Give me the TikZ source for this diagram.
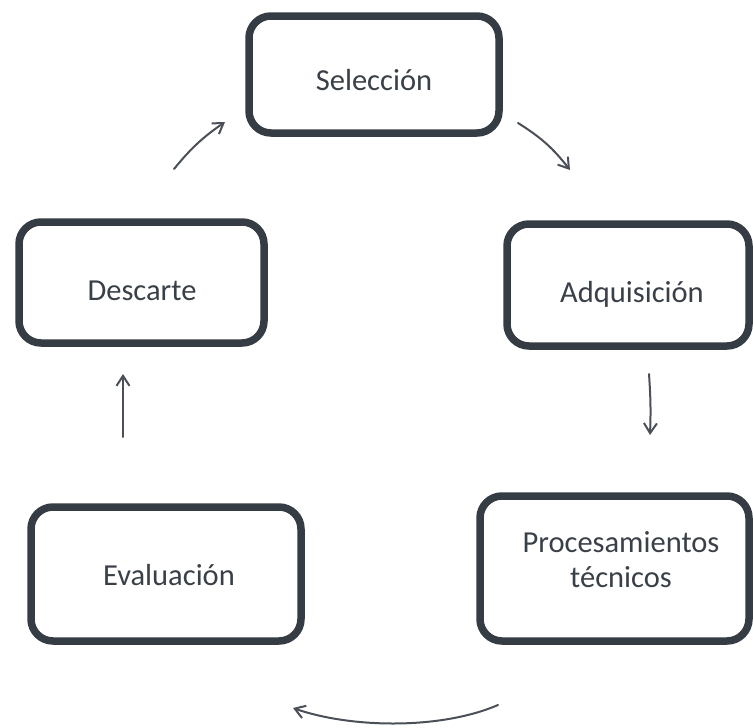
\documentclass[tikz,border=0pt]{standalone}
\usepackage{fontspec}
\setmainfont{Carlito}
\usetikzlibrary{arrows.meta}
\definecolor{boxc}{HTML}{353C44}
\definecolor{txtc}{HTML}{3A4048}
\definecolor{arrc}{HTML}{4A4F58}
\begin{document}
\begin{tikzpicture}[x=1pt,y=-1pt,
  stagebox/.style={draw=boxc,line width=7.5pt,rounded corners=22pt,fill=white,inner sep=0pt},
  stagetext/.style={anchor=base,align=center,inner sep=0pt,text=txtc,font=\fontsize{30.5}{35}\selectfont},
  flow/.style={draw=arrc,line width=2pt,line cap=round,-{Straight Barb[length=10pt,width=13pt,line width=2pt]}}]
\useasboundingbox (0,0) rectangle (753,728);
% boxes
\node[stagebox,minimum width=250pt,minimum height=117pt] (sel) at (374,74.5) {};
\node[stagebox,minimum width=245pt,minimum height=121pt] (des) at (141.5,282.5) {};
\node[stagebox,minimum width=242pt,minimum height=122pt] (adq) at (628,285) {};
\node[stagebox,minimum width=269pt,minimum height=145pt] (pro) at (614.5,568.5) {};
\node[stagebox,minimum width=270pt,minimum height=134pt] (eva) at (166,574) {};
% texts
\node[stagetext] (selT) at (374,90) {Selección};
\node[stagetext] (desT) at (142,300) {Descarte};
\node[stagetext] (adqT) at (632,302) {Adquisición};
\node[stagetext] (proT) at (621,587) {Procesamientos\\técnicos};
\node[stagetext] (evaT) at (169,585) {Evaluación};
% connectors
\coordinate (a1s) at (174,169); \coordinate (a1e) at (225,122);
\coordinate (a2s) at (518,123); \coordinate (a2e) at (570,170);
\coordinate (a3s) at (649,374); \coordinate (a3e) at (650,435);
\coordinate (a4s) at (123,437); \coordinate (a4e) at (123,374);
\coordinate (a5s) at (498,705); \coordinate (a5e) at (293,708);
\draw[flow] (a1s) to[bend left=8] (a1e);
\draw[flow] (a2s) to[bend left=10] (a2e);
\draw[flow] (a3s) to[bend left=3] (a3e);
\draw[flow] (a4s) -- (a4e);
\draw[flow] (a5s) .. controls (440,730) and (350,728) .. (a5e);
\end{tikzpicture}
\end{document}
